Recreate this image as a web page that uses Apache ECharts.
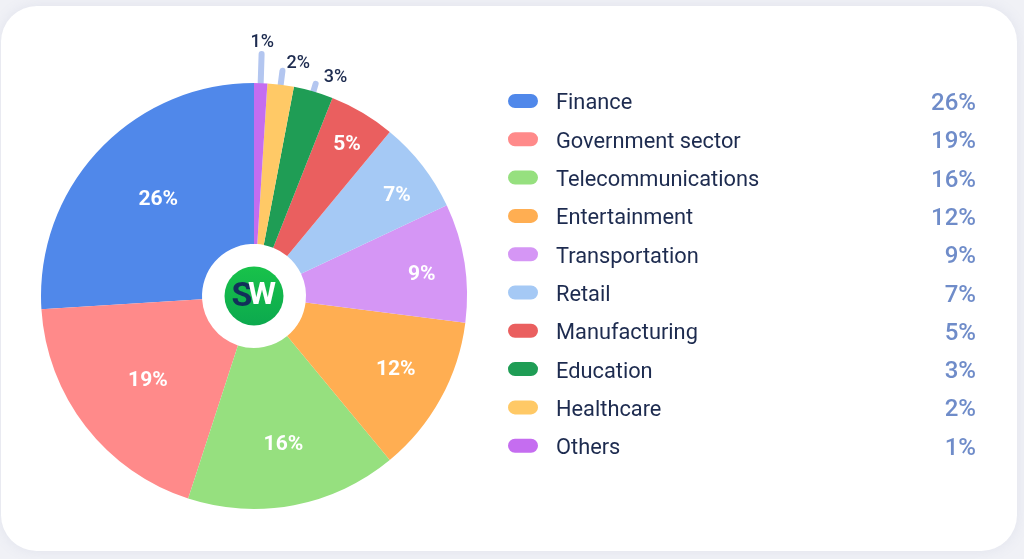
<!DOCTYPE html>
<html><head><meta charset="utf-8">
<style>html,body{margin:0;padding:0;background:#f0f1f6;}#c{width:1024px;height:559px;}</style>
<script src="https://cdn.jsdelivr.net/npm/echarts@6/dist/echarts.min.js"></script></head>
<body><div id="c"></div>
<script>
const categories = ['Finance','Government sector','Telecommunications','Entertainment','Transportation','Retail','Manufacturing','Education','Healthcare','Others'];
const values = [26,19,16,12,9,7,5,3,2,1];
const colors = ['#5088ea','#ff8a8a','#96e07f','#ffae52','#d596f5','#a5c9f5','#ea5f5f','#1f9d55','#ffc966','#c56df0'];
const labelOffsets = [[3,-3],[1,2],[4,16],[23,8],[34,0],[36,-17],[24,-35]];
const outerLineLengths = [0,0,0,0,0,0,0,8,14,29];
const outerOffsets = {7:[3,-6],8:[-1,-7],9:[-16,-12]};

const chart = echarts.init(document.getElementById('c'), null, {renderer:'canvas'});
const pieData = categories.map((name,i)=>{
  const outer = i>=7;
  return {
    name, value: values[i],
    itemStyle:{color:colors[i]},
    label: outer
      ? {position:'outside',color:'#1d2b4f',fontSize:18,fontWeight:500}
      : {position:'inside',color:'#ffffff',fontSize:21,fontWeight:700},
    labelLine: {show:outer,length:outerLineLengths[i],length2:0,
      lineStyle:{color:'#b3c6f0',width:6,cap:'round'}}
  };
});
chart.setOption({
  animation:false,
  backgroundColor:'transparent',
  textStyle:{fontFamily:'Roboto'},
  graphic:[
    {type:'rect',z:-10,shape:{x:1,y:6,width:1016,height:545,r:36},
     style:{fill:'#ffffff',shadowBlur:14,shadowColor:'rgba(120,130,170,0.12)'}},
    {type:'circle',z:10,shape:{cx:254,cy:296,r:29.5},
     style:{fill:new echarts.graphic.LinearGradient(0,0,0,1,[{offset:0,color:'#18c24a'},{offset:1,color:'#0ca94e'}])}},
    {type:'text',z:11,style:{x:242,y:297,text:'S',align:'center',verticalAlign:'middle',fill:'#12305a',font:'700 34px Roboto'}},
    {type:'text',z:12,style:{x:262,y:296,text:'W',align:'center',verticalAlign:'middle',fill:'#ffffff',font:'700 32px Roboto'}}
  ],
  legend:{
    orient:'vertical',left:503,top:87,
    icon:'path://M7 0H23A7 7 0 0 1 23 14H7A7 7 0 0 1 7 0Z M15 20L15.01 20Z',
    itemWidth:30,itemHeight:20,itemGap:14.3,selectedMode:false,
    data:categories,
    formatter:n=>`{n|${n}}{v|${values[categories.indexOf(n)]}%}`,
    textStyle:{padding:[0,0,0,13],rich:{
      n:{width:373,fontSize:21.8,lineHeight:24,color:'#1d2b4f',fontFamily:'Roboto',align:'left'},
      v:{width:47,fontSize:24,lineHeight:24,color:'#6f8cc9',fontFamily:'Roboto',fontWeight:500,align:'right'}
    }}
  },
  series:[{
    type:'pie',center:[254,296],radius:[52,213],startAngle:90,clockwise:false,
    avoidLabelOverlap:false,
    label:{formatter:'{c}%',fontFamily:'Roboto'},
    labelLayout:p=>{
      const o = p.dataIndex>=7 ? outerOffsets[p.dataIndex] : labelOffsets[p.dataIndex];
      return {dx:o[0],dy:o[1]};
    },
    data:pieData
  }]
});
</script></body></html>
